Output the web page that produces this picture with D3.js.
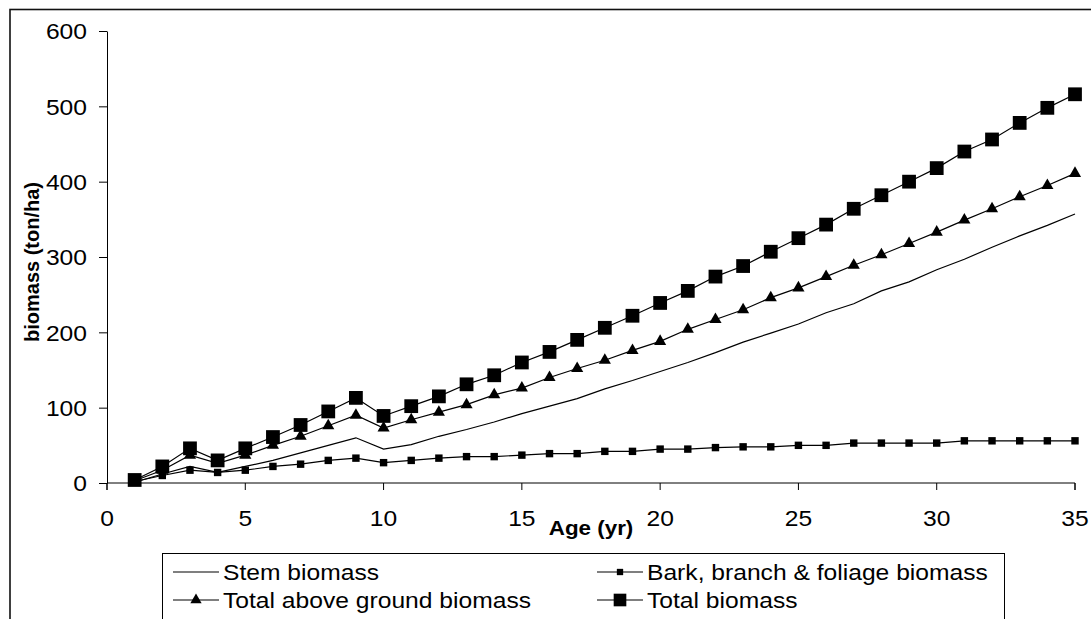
<!DOCTYPE html>
<html>
<head>
<meta charset="utf-8">
<script src="https://cdn.jsdelivr.net/npm/d3@7"></script>
<style>
  html, body { margin: 0; padding: 0; background: #fff; }
  svg { display: block; font-family: "Liberation Sans", Arial, sans-serif; }
</style>
</head>
<body>
<svg id="chart" width="1091" height="619"></svg>
<script>
// Stand age in years
const ages = d3.range(1, 36);

// Biomass by component (ton/ha)
const stemBiomass = [1, 12, 22, 14, 22, 30, 40, 50, 60, 45, 51, 62, 71, 81, 92, 102, 112, 125, 136, 148,
  160, 173, 187, 199, 211, 226, 238, 255, 267, 283, 297, 313, 328, 342, 357];
const barkBranchFoliage = [2, 10, 17, 14, 17, 22, 25, 30, 33, 27, 30, 33, 35, 35, 37, 39, 39, 42, 42, 45,
  45, 47, 48, 48, 50, 50, 53, 53, 53, 53, 56, 56, 56, 56, 56];
const aboveGround = [3, 17, 37, 26, 37, 50, 62, 76, 90, 73, 84, 94, 104, 117, 126, 140, 152, 163, 176, 188,
  204, 217, 230, 246, 259, 274, 289, 303, 318, 333, 349, 364, 380, 395, 411];
const totalBiomass = [4, 22, 46, 30, 46, 61, 77, 95, 113, 89, 102, 115, 131, 143, 160, 174, 190, 206, 222, 239,
  255, 274, 288, 307, 325, 343, 364, 382, 400, 418, 440, 456, 478, 498, 516];

const xTicks = [0, 5, 10, 15, 20, 25, 30, 35];
const yTicks = [0, 100, 200, 300, 400, 500, 600];

const seriesNames = ["Stem biomass", "Bark, branch & foliage biomass", "Total above ground biomass", "Total biomass"];

const FONT = "Liberation Sans, Arial, sans-serif";
const SX = 1.12;        // slightly widened lettering
const FS = 22;          // label size

const svg = d3.select("#chart");

// outer chart frame
svg.append("rect")
  .attr("x", 10).attr("y", 9.5)
  .attr("width", 1200).attr("height", 800)
  .attr("fill", "none").attr("stroke", "#111").attr("stroke-width", 1.6);

const x = d3.scaleLinear().domain([0, 35]).range([107, 1075]);
const y = d3.scaleLinear().domain([0, 600]).range([483, 31]);

// x axis
const xAxis = d3.axisBottom(x).tickValues(xTicks).tickSize(7).tickSizeOuter(7).tickPadding(0).offset(0);
const gx = svg.append("g").attr("transform", `translate(0,${y(0)})`).call(xAxis);
gx.select(".domain").attr("stroke", "#000");
gx.selectAll(".tick line").attr("stroke", "#000");
gx.selectAll(".tick text")
  .attr("y", 43).attr("dy", null)
  .attr("transform", `scale(${SX},1)`)
  .attr("font-size", FS).attr("fill", "#000").attr("font-family", FONT);

// y axis
const yAxis = d3.axisLeft(y).tickValues(yTicks).tickSize(8).tickSizeOuter(0).tickPadding(0);
const gy = svg.append("g").attr("transform", `translate(${x(0)},0)`).call(yAxis);
gy.select(".domain").attr("stroke", "#000");
gy.selectAll(".tick line").attr("stroke", "#000");
gy.selectAll(".tick text")
  .attr("x", -20 / SX).attr("dy", "0.35em")
  .attr("transform", `scale(${SX},1)`)
  .attr("font-size", FS).attr("fill", "#000").attr("font-family", FONT);

// axis titles
svg.append("text")
  .attr("transform", `translate(${(x(0) + x(35)) / 2},535) scale(${SX},1)`)
  .attr("text-anchor", "middle")
  .attr("font-size", 20).attr("font-weight", "bold").text("Age (yr)");

svg.append("text")
  .attr("transform", `translate(39,262) rotate(-90)`)
  .attr("text-anchor", "middle")
  .attr("font-size", 20).attr("font-weight", "bold").text("biomass (ton/ha)");

// series
const line = d3.line().x((d, i) => x(ages[i])).y(d => y(d));

function drawSeries(values, marker, size) {
  svg.append("path").datum(values)
    .attr("d", line).attr("fill", "none").attr("stroke", "#000").attr("stroke-width", 1.2);
  if (marker) {
    svg.append("g").selectAll("path").data(values).join("path")
      .attr("transform", (d, i) => `translate(${x(ages[i])},${y(d)})`)
      .attr("d", d3.symbol().type(marker).size(size))
      .attr("fill", "#000");
  }
}

drawSeries(stemBiomass, null, 0);
drawSeries(barkBranchFoliage, d3.symbolSquare, 55);
drawSeries(aboveGround, d3.symbolTriangle, 64);
drawSeries(totalBiomass, d3.symbolSquare, 190);

// legend
const legend = svg.append("g");
legend.append("rect")
  .attr("x", 162.5).attr("y", 553.5).attr("width", 842).attr("height", 120)
  .attr("fill", "#fff").attr("stroke", "#000").attr("stroke-width", 1);

const legendItems = [
  { name: seriesNames[0], x0: 173, cy: 572, marker: null, size: 0 },
  { name: seriesNames[1], x0: 597, cy: 572, marker: d3.symbolSquare, size: 40 },
  { name: seriesNames[2], x0: 173, cy: 600, marker: d3.symbolTriangle, size: 55 },
  { name: seriesNames[3], x0: 597, cy: 600, marker: d3.symbolSquare, size: 160 }
];

legendItems.forEach(it => {
  const cx = it.x0 + 23;
  legend.append("line")
    .attr("x1", it.x0).attr("x2", it.x0 + 46)
    .attr("y1", it.cy).attr("y2", it.cy)
    .attr("stroke", "#000").attr("stroke-width", 1.2);
  if (it.marker) {
    legend.append("path")
      .attr("transform", `translate(${cx},${it.cy})`)
      .attr("d", d3.symbol().type(it.marker).size(it.size)).attr("fill", "#000");
  }
  legend.append("text")
    .attr("transform", `translate(${it.x0 + 50},${it.cy + 8}) scale(${SX},1)`)
    .attr("font-size", FS).attr("font-family", FONT).text(it.name);
});
</script>
</body>
</html>
